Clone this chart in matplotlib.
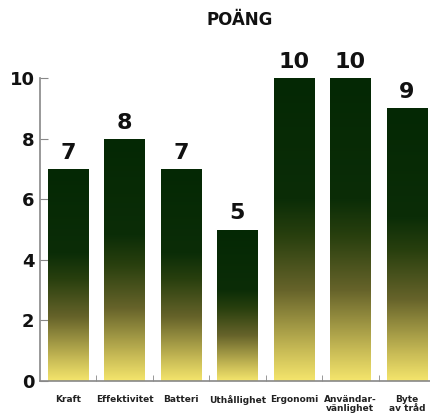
import matplotlib
matplotlib.use("Agg")
import matplotlib.pyplot as plt
import numpy as np
from matplotlib.colors import LinearSegmentedColormap
from matplotlib.patches import Rectangle

categories = ["Kraft", "Effektivitet", "Batteri", "Uthållighet", "Ergonomi",
              "Användar-\nvänlighet", "Byte\nav tråd"]
scores = [7, 8, 7, 5, 10, 10, 9]
yticks = [0, 2, 4, 6, 8, 10]

# bar fill: yellow at the base, dark green over the upper half
cmap = LinearSegmentedColormap.from_list(
    "bar", [(0.0, "#f4e56c"), (0.1, "#c8bb56"), (0.3, "#66632a"),
            (0.48, "#283f0e"), (0.6, "#0b2d07"), (1.0, "#042804")])
grad = np.linspace(0, 1, 256).reshape(-1, 1)

fig = plt.figure(figsize=(4.30, 4.13), dpi=100)
ax = fig.add_axes([40 / 430, 32 / 413, 390 / 430, 303 / 413])

width = 0.71
x = np.arange(len(categories))
for xi, v in zip(x, scores):
    rect = Rectangle((xi - width / 2, 0), width, v, facecolor="none", edgecolor="none")
    ax.add_patch(rect)
    im = ax.imshow(grad, cmap=cmap, origin="lower", aspect="auto",
                   extent=(xi - width / 2, xi + width / 2, 0, v), zorder=2)
    im.set_clip_path(rect)
    ax.text(xi, v + 0.2, str(v), ha="center", va="bottom", fontsize=16,
            fontweight="bold", color="#111111", clip_on=False)

ax.set_xlim(-0.496, 6.41)
ax.set_ylim(0, 10)
ax.set_yticks(yticks)
ax.set_yticklabels([str(t) for t in yticks], fontsize=13, fontweight="bold", color="#111111")
ax.set_xticks(x)
ax.set_xticklabels(categories, fontsize=6.5, fontweight="bold", color="#222222",
                   linespacing=0.95, va="top")
ax.set_xticks(x[:-1] + 0.5, minor=True)
ax.tick_params(axis="x", which="major", length=0, pad=10)
ax.tick_params(axis="x", which="minor", length=4, direction="in", color="#888888")
ax.tick_params(axis="y", length=6, direction="in", color="#888888", pad=4)

for side in ["top", "right"]:
    ax.spines[side].set_visible(False)
for side in ["left", "bottom"]:
    ax.spines[side].set_color("#888888")
    ax.spines[side].set_linewidth(1.2)

fig.text(240 / 430, 1 - 20 / 413, "POÄNG", ha="center", va="center",
         fontsize=12, fontweight="bold", color="#111111")

fig.savefig("out.png", dpi=100)
